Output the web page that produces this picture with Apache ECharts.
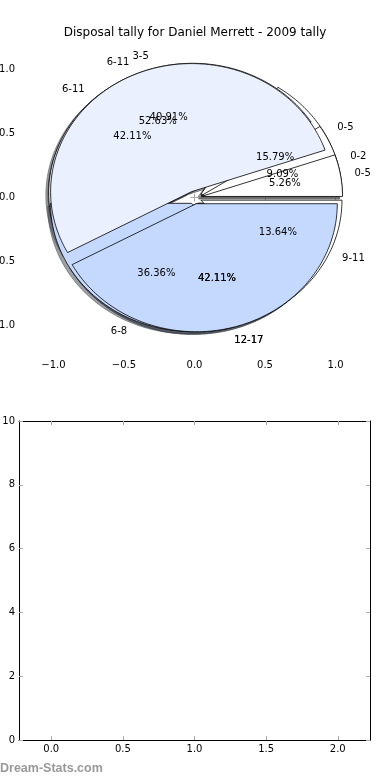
<!DOCTYPE html>
<html><head><meta charset="utf-8">
<script src="https://cdn.jsdelivr.net/npm/echarts@6/dist/echarts.min.js"></script>
<style>html,body{margin:0;padding:0;background:#fff}#c{width:390px;height:780px}</style>
</head><body><div id="c"></div>
<script>
const titleText = 'Disposal tally for Daniel Merrett - 2009 tally';
const pieALabels = ['0-5', '6-11', '12-17'];
const pieAValues = [15.79, 42.11, 42.11];
const pieBLabels = ['0-2', '3-5', '6-8', '9-11'];
const pieBValues = [9.09, 40.91, 36.36, 13.64];
const pieCLabels = ['0-5', '6-11', '12-17'];
const pieCValues = [5.26, 52.63, 42.11];
const pieTicks = [-1, -0.5, 0, 0.5, 1];
const lowerXTicks = [0, 0.5, 1, 1.5, 2];
const watermarkText = 'Dream-Stats.com';

const wedgeColors = ['#ffffff', '#eaf0fd', '#c5d9fe'];
const EXPLODE = 0.05, RADIUS = 1, LABEL_D = 1.1, PCT_D = 0.6, SH = -0.02;
const FONT = 'DejaVu Sans';

function buildWedges(values, labels) {
  const total = values.reduce((a, b) => a + b, 0);
  let t = 0;
  return values.map((v, i) => {
    const t1 = t; t += v / total; const t2 = t;
    const tm = (t1 + t2) * Math.PI;
    return { t1: t1 * 360, t2: t2 * 360, tm, cx: EXPLODE * Math.cos(tm), cy: EXPLODE * Math.sin(tm),
      color: wedgeColors[i % wedgeColors.length], label: labels[i], pct: v.toFixed(2) + '%' };
  });
}
const pies = [buildWedges(pieAValues, pieALabels), buildWedges(pieBValues, pieBLabels), buildWedges(pieCValues, pieCLabels)];

function poly(api, w, dx, dy) {
  const pts = [api.coord([w.cx + dx, w.cy + dy])];
  const n = Math.max(2, Math.ceil(w.t2 - w.t1));
  for (let k = 0; k <= n; k++) {
    const a = (w.t1 + (w.t2 - w.t1) * k / n) * Math.PI / 180;
    pts.push(api.coord([w.cx + dx + RADIUS * Math.cos(a), w.cy + dy + RADIUS * Math.sin(a)]));
  }
  return pts;
}
function shade(hex) {
  const r = parseInt(hex.slice(1, 3), 16), g = parseInt(hex.slice(3, 5), 16), b = parseInt(hex.slice(5, 7), 16);
  return 'rgb(' + Math.round(r * 0.3) + ',' + Math.round(g * 0.3) + ',' + Math.round(b * 0.3) + ')';
}
function fmt(v) { return (v < 0 ? '\u2212' : '') + Math.abs(v).toFixed(1); }

const series = [];
const shadowData = [];
pies.forEach((p, pi) => p.forEach((w, wi) => shadowData.push([pi, wi])));
series.push({
  type: 'custom', xAxisIndex: 0, yAxisIndex: 0, z: 1, silent: true,
  data: shadowData, encode: { x: -1, y: -1 },
  renderItem: (params, api) => {
    const w = pies[api.value(0)][api.value(1)];
    const c = shade(w.color);
    return { type: 'polygon', shape: { points: poly(api, w, SH, SH) },
      style: { fill: c, stroke: c, lineWidth: 1, opacity: 0.5 } };
  }
});
pies.forEach((p, pi) => {
  series.push({
    type: 'custom', xAxisIndex: 0, yAxisIndex: 0, z: 2 + pi, silent: true,
    data: p.map((w, wi) => [pi, wi]), encode: { x: -1, y: -1 },
    renderItem: (params, api) => {
      const w = pies[api.value(0)][api.value(1)];
      return { type: 'polygon', shape: { points: poly(api, w, 0, 0) },
        style: { fill: w.color, stroke: '#000', lineWidth: 0.8 } };
    }
  });
});
pies.forEach((p, pi) => {
  series.push({
    type: 'custom', xAxisIndex: 0, yAxisIndex: 0, z: 20, silent: true,
    data: p.map((w, wi) => [pi, wi]), encode: { x: -1, y: -1 },
    renderItem: (params, api) => {
      const w = pies[api.value(0)][api.value(1)];
      const lx = w.cx + LABEL_D * RADIUS * Math.cos(w.tm), ly = w.cy + LABEL_D * RADIUS * Math.sin(w.tm);
      const px = w.cx + PCT_D * RADIUS * Math.cos(w.tm), py = w.cy + PCT_D * RADIUS * Math.sin(w.tm);
      const L = api.coord([lx, ly]), P = api.coord([px, py]);
      return { type: 'group', children: [
        { type: 'text', x: L[0], y: L[1], style: { text: w.label, fill: '#000', font: '10px ' + FONT, align: lx > 0 ? 'left' : 'right', verticalAlign: 'middle' } },
        { type: 'text', x: P[0], y: P[1], style: { text: w.pct, fill: '#000', font: '10px ' + FONT, align: 'center', verticalAlign: 'middle' } }
      ] };
    }
  });
});

const tickStyle = { show: true, inside: true, length: 4, lineStyle: { color: '#aaaaaa', width: 1 } };
const lab = { fontSize: 10, color: '#000', fontFamily: FONT };

const option = {
  animation: false,
  backgroundColor: '#fff',
  title: { text: titleText, left: 'center', top: 22, textStyle: { fontSize: 12, fontWeight: 'normal', color: '#000', fontFamily: FONT } },
  graphic: [{ type: 'text', left: 0, top: 762, style: { text: watermarkText, fill: '#999999', font: 'bold 12.5px "Liberation Sans"' } }],
  grid: [
    { left: 21, right: 22, top: 40, bottom: 425, show: false, containLabel: false, outerBoundsMode: 'none' },
    { left: 19, right: 20, top: 421, bottom: 40, show: false, containLabel: false, outerBoundsMode: 'none' }
  ],
  xAxis: [
    { type: 'value', gridIndex: 0, position: 'bottom', min: -1.23, max: 1.23, axisLine: { show: false }, splitLine: { show: false },
      axisTick: Object.assign({ customValues: pieTicks }, tickStyle),
      axisLabel: Object.assign({ customValues: pieTicks, formatter: fmt, margin: 5 }, lab) },
    { type: 'value', gridIndex: 0, position: 'top', min: -1.23, max: 1.23, axisLine: { show: false }, splitLine: { show: false },
      axisTick: Object.assign({ customValues: pieTicks }, tickStyle), axisLabel: { show: false } },
    { type: 'value', gridIndex: 1, position: 'bottom', min: -0.225, max: 2.225, axisLine: { show: true, onZero: false, lineStyle: { color: '#000', width: 1 } }, splitLine: { show: false },
      axisTick: Object.assign({ customValues: lowerXTicks }, tickStyle),
      axisLabel: Object.assign({ customValues: lowerXTicks, formatter: fmt, margin: 4 }, lab) },
    { type: 'value', gridIndex: 1, position: 'top', min: -0.225, max: 2.225, axisLine: { show: true, onZero: false, lineStyle: { color: '#000', width: 1 } }, splitLine: { show: false },
      axisTick: Object.assign({ customValues: lowerXTicks }, tickStyle), axisLabel: { show: false } }
  ],
  yAxis: [
    { type: 'value', gridIndex: 0, position: 'left', min: -1.23, max: 1.23, axisLine: { show: false }, splitLine: { show: false },
      axisTick: Object.assign({ customValues: pieTicks }, tickStyle),
      axisLabel: Object.assign({ customValues: pieTicks, formatter: fmt, margin: 6 }, lab) },
    { type: 'value', gridIndex: 0, position: 'right', min: -1.23, max: 1.23, axisLine: { show: false }, splitLine: { show: false },
      axisTick: Object.assign({ customValues: pieTicks }, tickStyle), axisLabel: { show: false } },
    { type: 'value', gridIndex: 1, position: 'left', min: 0, max: 10, interval: 2, axisLine: { show: true, onZero: false, lineStyle: { color: '#000', width: 1 } }, splitLine: { show: false },
      axisTick: tickStyle, axisLabel: Object.assign({ margin: 4 }, lab) },
    { type: 'value', gridIndex: 1, position: 'right', min: 0, max: 10, interval: 2, axisLine: { show: true, onZero: false, lineStyle: { color: '#000', width: 1 } }, splitLine: { show: false },
      axisTick: tickStyle, axisLabel: { show: false } }
  ],
  series: series
};
const chart = echarts.init(document.getElementById('c'), null, { renderer: 'canvas' });
chart.setOption(option);
</script>
</body></html>
